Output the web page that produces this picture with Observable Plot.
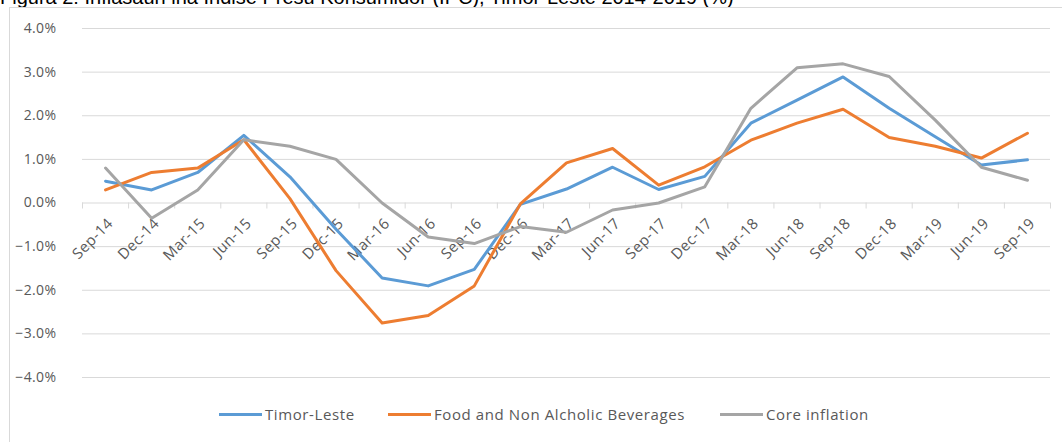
<!DOCTYPE html>
<html>
<head>
<meta charset="utf-8">
<script src="https://cdn.jsdelivr.net/npm/d3@7"></script>
<script src="https://cdn.jsdelivr.net/npm/@observablehq/plot@0.6"></script>
<style>
  html, body { margin: 0; padding: 0; background: #fff; }
  body { width: 1062px; height: 442px; position: relative; overflow: hidden; font-family: "Open Sans", sans-serif; }
  #title { position: absolute; left: 0; top: 0; }
  #frame { position: absolute; left: 9px; top: 7px; width: 1070px; height: 460px; border: 1px solid #d9d9d9; box-sizing: border-box; }
  #chart { position: absolute; left: 0; top: 0; }
  #legend { position: absolute; top: 402px; left: 0; width: 1062px; height: 24px; }
  .item { position: absolute; top: 0; display: flex; align-items: center; height: 24px; font-size: 15px; letter-spacing: 0.6px; color: #595959; white-space: nowrap; }
  .sw { width: 43px; height: 3px; margin-right: 3px; }
</style>
</head>
<body>
<svg id="title" width="1062" height="8"><text x="0" y="4" font-family="Liberation Sans, Arial, sans-serif" font-size="20" fill="#000">Figura 2: Inflasaun iha Indise Presu Konsumidor (IPC), Timor-Leste 2014-2019 (%)</text></svg>
<div id="frame"></div>
<div id="chart"></div>
<div id="legend"></div>
<script>
const quarters = ["Sep-14","Dec-14","Mar-15","Jun-15","Sep-15","Dec-15","Mar-16","Jun-16","Sep-16","Dec-16","Mar-17","Jun-17","Sep-17","Dec-17","Mar-18","Jun-18","Sep-18","Dec-18","Mar-19","Jun-19","Sep-19"];
const timorLeste = [0.5, 0.3, 0.7, 1.55, 0.6, -0.6, -1.72, -1.9, -1.52, -0.03, 0.32, 0.82, 0.31, 0.61, 1.83, 2.36, 2.89, 2.17, 1.52, 0.87, 0.99];
const foodBev   = [0.3, 0.7, 0.8, 1.45, 0.1, -1.55, -2.75, -2.58, -1.9, -0.02, 0.92, 1.25, 0.41, 0.83, 1.44, 1.83, 2.15, 1.5, 1.3, 1.03, 1.6];
const coreInfl  = [0.8, -0.35, 0.3, 1.45, 1.3, 1.0, 0.0, -0.78, -0.93, -0.54, -0.67, -0.16, 0.0, 0.37, 2.17, 3.1, 3.19, 2.9, 1.9, 0.82, 0.52];
const seriesNames = ["Timor-Leste", "Food and Non Alcholic Beverages", "Core inflation"];
const seriesColors = ["#5B9BD5", "#ED7D31", "#A5A5A5"];
const yTicks = [-4, -3, -2, -1, 0, 1, 2, 3, 4];

const seriesValues = [timorLeste, foodBev, coreInfl];
const rows = [];
seriesValues.forEach((vals, s) => vals.forEach((v, i) => rows.push({i, q: quarters[i], v, s: seriesNames[s]})));
const idx = quarters.map((q, i) => i);
const bounds = d3.range(quarters.length + 1).map(k => k - 0.5);

const chart = Plot.plot({
  width: 1062,
  height: 392,
  marginLeft: 82,
  marginRight: 12,
  marginTop: 28,
  marginBottom: 15,
  style: {fontFamily: "Open Sans, sans-serif", background: "transparent", letterSpacing: "0.4px"},
  x: {domain: [-0.5, quarters.length - 0.5], axis: null},
  y: {domain: [-4, 4], axis: null},
  color: {domain: seriesNames, range: seriesColors},
  marks: [
    Plot.ruleY(yTicks, {stroke: "#d9d9d9", strokeWidth: 1}),
    Plot.ruleX(bounds, {y1: 0, y2: 0, insetBottom: -6, stroke: "#d9d9d9", strokeWidth: 1}),
    Plot.text(yTicks, {x: -0.5, y: d => d, text: d => d3.format(".1f")(d) + "%", textAnchor: "end", dx: -26, fontSize: 14, fill: "#595959"}),
    Plot.text(idx, {x: d => d, y: () => 0, text: d => quarters[d], rotate: -45, textAnchor: "end", dx: 5, dy: 18, fontSize: 15, fill: "#595959"}),
    Plot.line(rows, {x: "i", y: "v", z: "s", stroke: "s", strokeWidth: 3, strokeLinejoin: "round", strokeLinecap: "round"})
  ]
});
document.getElementById("chart").appendChild(chart);

const legendPos = [219, 388, 720];
const legend = document.getElementById("legend");
seriesNames.forEach((n, k) => {
  const it = document.createElement("div");
  it.className = "item";
  it.style.left = legendPos[k] + "px";
  it.innerHTML = `<span class="sw" style="background:${seriesColors[k]}"></span><span>${n}</span>`;
  legend.appendChild(it);
});
</script>
</body>
</html>
